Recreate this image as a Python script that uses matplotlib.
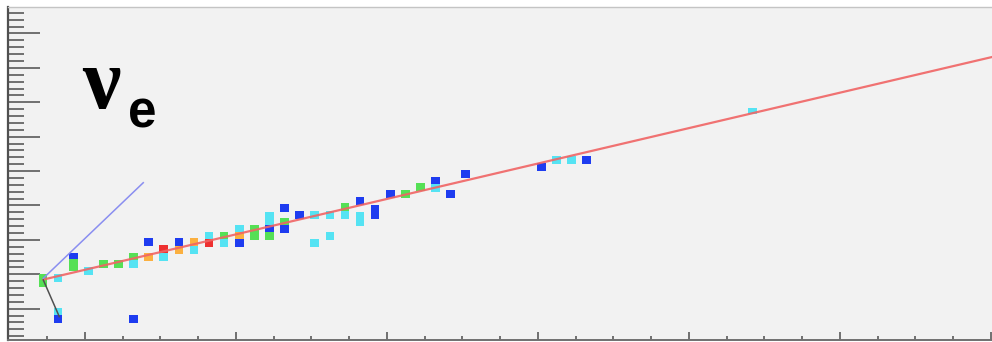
#!/usr/bin/env python
# Event display: nu_e candidate, hits on wire vs. time with fitted tracks.

import matplotlib.pyplot as plt
import numpy as np

# hit wire index, time (centre), time width, charge colour
wire = [0, 1, 1, 1, 2, 2, 3, 4, 5, 6, 6, 6, 7, 7, 8, 8, 9, 9, 10, 10,
        11, 11, 12, 12, 13, 13, 13, 14, 15, 15, 15, 16, 16, 16, 17, 18, 18,
        19, 19, 20, 20, 21, 21, 22, 23, 24, 25, 26, 26, 27, 28, 33, 34, 35,
        36, 47]
time = [9.1, 9.4, 4.56, 3.5, 12.56, 11.35, 10.48, 11.54, 11.45, 3.5, 12.47,
        11.45, 12.47, 14.65, 12.47, 13.63, 14.65, 13.53, 14.65, 13.53,
        15.57, 14.59, 15.57, 14.51, 16.58, 15.61, 14.51, 16.08, 17.65, 16.54,
        15.57, 19.59, 17.65, 16.54, 18.62, 18.62, 14.59, 18.62, 15.57, 19.74,
        18.62, 20.7, 18.04, 19.06, 21.67, 21.67, 22.73, 23.6, 22.5, 21.63,
        24.53, 25.55, 26.61, 26.61, 26.57, 33.74]
width = [1.9, 1.16, 1.16, 1.16, 1.16, 1.75, 1.16, 1.16, 1.16, 1.16, 1.16,
         1.16, 1.16, 1.16, 1.16, 1.16, 1.16, 1.16, 1.16, 1.16,
         1.16, 1.16, 1.16, 1.16, 1.16, 1.16, 1.16, 2.2, 2.9, 1.16,
         1.16, 1.16, 1.16, 1.16, 1.16, 1.16, 1.16, 1.16, 1.16, 1.16,
         1.16, 1.16, 2.0, 2.0, 1.16, 1.16, 1.16, 1.16, 1.16, 1.16,
         1.16, 1.16, 1.16, 1.16, 1.16, 0.8]
charge = ['g', 'c', 'c', 'b', 'b', 'g', 'c', 'g', 'g', 'b', 'g',
          'c', 'o', 'b', 'c', 'r', 'b', 'o', 'o', 'c',
          'c', 'r', 'g', 'c', 'c', 'o', 'b', 'g', 'c', 'b',
          'g', 'b', 'g', 'b', 'b', 'c', 'c', 'c', 'c', 'g',
          'c', 'b', 'c', 'b', 'b', 'g', 'g', 'b', 'c', 'b',
          'b', 'b', 'c', 'c', 'b', 'c']

# reconstructed tracks (wire, time) end points
shower_w = [0.03, 62.85]
shower_t = [9.24, 41.58]
track1_w = [0.02, 6.64]
track1_t = [9.42, 23.31]
track2_w = [0.02, 1.08]
track2_t = [9.17, 3.84]

palette = {'b': '#1e3cf0', 'c': '#55e3f3', 'g': '#55e055',
           'o': '#fbb040', 'r': '#ee3030'}

fig = plt.figure(figsize=(9.92, 3.42), dpi=100)
ax = fig.add_axes([8/992, 2/342, 984/992, 333/342])
ax.set_facecolor('#f2f2f2')

t = np.array(time)
h = np.array(width)
ax.bar(wire, h, bottom=t - h/2, width=0.57,
       color=[palette[q] for q in charge], linewidth=0, zorder=2)

ax.plot(shower_w, shower_t, color='#f06464', lw=1.6, alpha=0.9, zorder=3)
ax.plot(track1_w, track1_t, color='#8a8ef0', lw=1.1, zorder=3)
ax.plot(track2_w, track2_t, color='#505050', lw=1.1, zorder=3)

ax.text(2.6, 34.2, '\u03bd', fontsize=62, family='Liberation Serif',
        weight='bold', ha='left', va='baseline', color='black')
ax.text(5.63, 31.3, 'e', fontsize=37, family='Liberation Sans',
        weight='bold', ha='left', va='baseline', color='black')

ax.set_xlim(-2.318, 62.85)
ax.set_ylim(0.45, 48.85)
ax.set_xticks(np.arange(2.78, 63, 10))
ax.set_xticks(np.arange(0.28, 63, 2.5), minor=True)
ax.set_yticks(np.arange(5, 48, 5))
ax.set_yticks(np.arange(1, 49, 1), minor=True)
ax.tick_params(which='both', direction='in', labelbottom=False,
               labelleft=False, color='#707070', width=1.4)
ax.tick_params(axis='y', which='major', length=23)
ax.tick_params(axis='y', which='minor', length=11.5)
ax.tick_params(axis='x', which='major', length=5.8)
ax.tick_params(axis='x', which='minor', length=3)

ax.spines['left'].set_color('#505050')
ax.spines['left'].set_linewidth(1.6)
ax.spines['bottom'].set_color('#707070')
ax.spines['bottom'].set_linewidth(1.4)
ax.spines['top'].set_color('#c4c4c4')
ax.spines['top'].set_linewidth(1.0)
ax.spines['right'].set_visible(False)

fig.savefig('out.png', dpi=100)
